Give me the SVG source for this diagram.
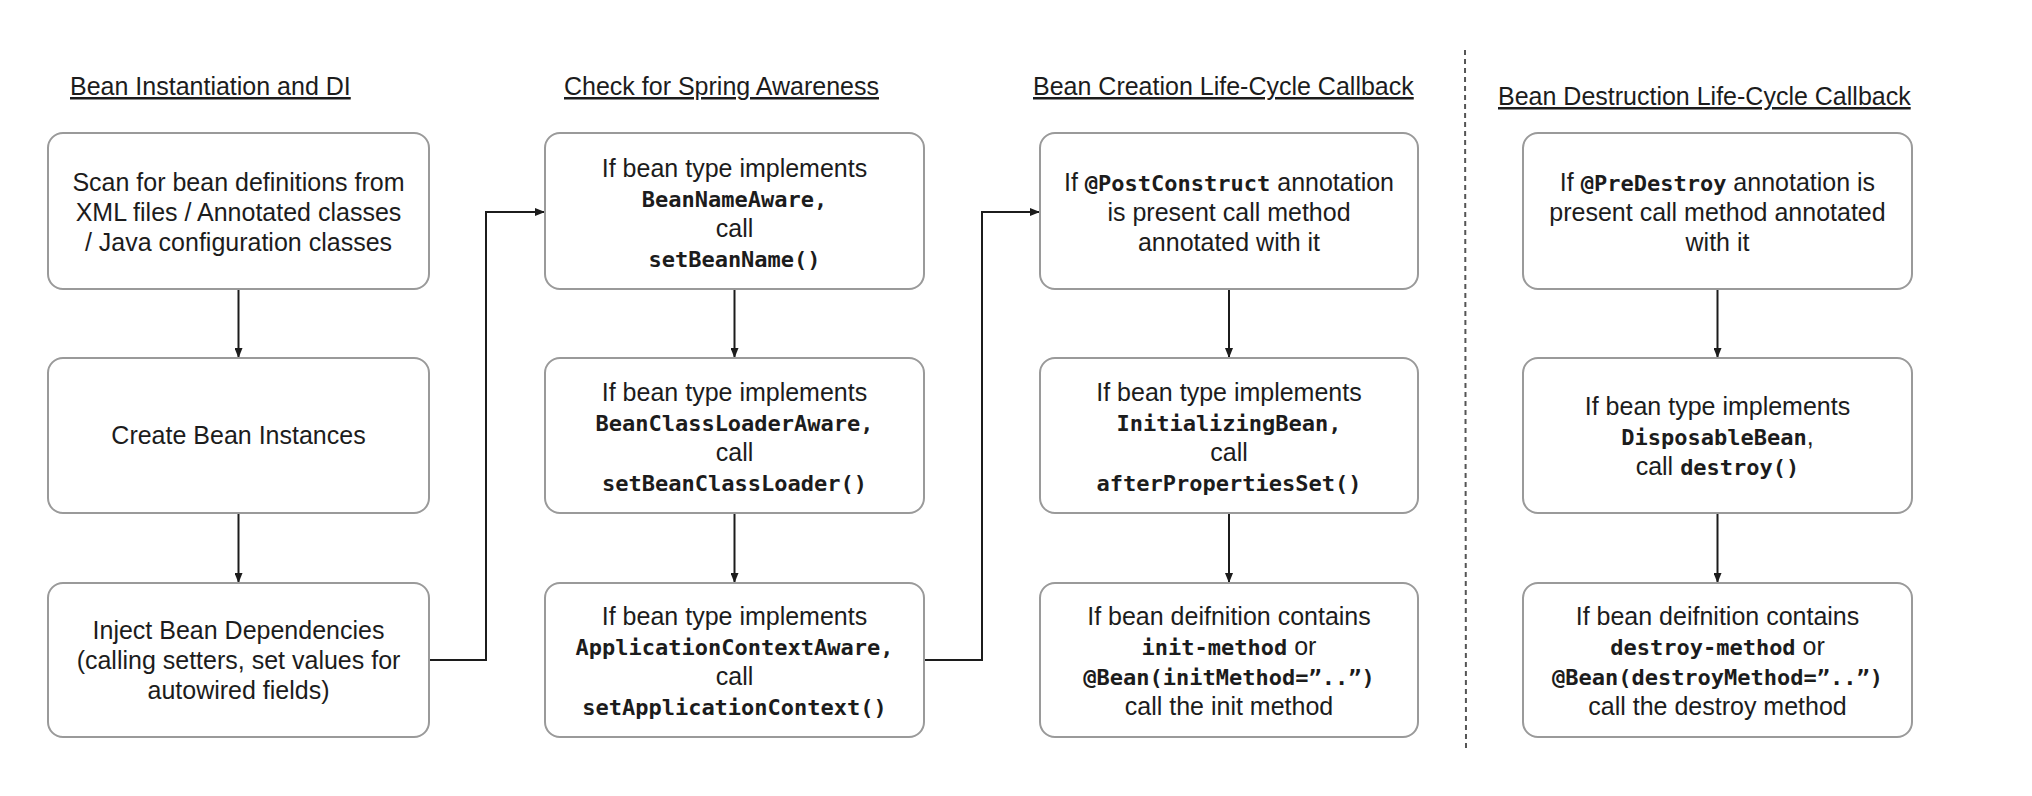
<svg xmlns="http://www.w3.org/2000/svg" width="2032" height="796" viewBox="0 0 2032 796">
<style>
.bg{fill:#ffffff}
.box{fill:#ffffff;stroke:#9a9a9a;stroke-width:2}
.t{font-family:"Liberation Sans",Arial,sans-serif;font-size:25px;fill:#1c1c1c;text-anchor:middle}
.m{font-family:"DejaVu Sans Mono","Liberation Mono",monospace;font-size:22px;font-weight:bold}
.title{font-family:"Liberation Sans",Arial,sans-serif;font-size:25px;fill:#1c1c1c;text-decoration:underline}
.conn{fill:none;stroke:#1c1c1c;stroke-width:2}
.div{fill:none;stroke:#555555;stroke-width:2;stroke-dasharray:5 4}
</style>
<defs>
<marker id="arr" viewBox="0 0 10 8" refX="10" refY="4" markerWidth="10" markerHeight="8" markerUnits="userSpaceOnUse" orient="auto">
<path d="M0,0 L10,4 L0,8 z" fill="#1c1c1c"/>
</marker>
</defs>
<rect class="bg" x="0" y="0" width="2032" height="796"/>

<g id="titles">
<text class="title" x="70" y="95">Bean Instantiation and DI</text>
<text class="title" x="564" y="95">Check for Spring Awareness</text>
<text class="title" x="1033" y="95">Bean Creation Life-Cycle Callback</text>
<text class="title" x="1498" y="105">Bean Destruction Life-Cycle Callback</text>
</g>

<line id="divider" class="div" x1="1465" y1="50" x2="1466" y2="750"/>

<g id="connectors">
<line class="conn" x1="238.5" y1="289" x2="238.5" y2="358" marker-end="url(#arr)"/>
<line class="conn" x1="238.5" y1="513" x2="238.5" y2="583" marker-end="url(#arr)"/>
<line class="conn" x1="734.5" y1="289" x2="734.5" y2="358" marker-end="url(#arr)"/>
<line class="conn" x1="734.5" y1="513" x2="734.5" y2="583" marker-end="url(#arr)"/>
<line class="conn" x1="1229" y1="289" x2="1229" y2="358" marker-end="url(#arr)"/>
<line class="conn" x1="1229" y1="513" x2="1229" y2="583" marker-end="url(#arr)"/>
<line class="conn" x1="1717.5" y1="289" x2="1717.5" y2="358" marker-end="url(#arr)"/>
<line class="conn" x1="1717.5" y1="513" x2="1717.5" y2="583" marker-end="url(#arr)"/>
<path class="conn" d="M429,660 H486 V212 H545" marker-end="url(#arr)"/>
<path class="conn" d="M924,660 H982 V212 H1040" marker-end="url(#arr)"/>
</g>

<g id="n1a">
<rect class="box" x="48" y="133" width="381" height="156" rx="15"/>
<text class="t" x="238.5" y="191">Scan for bean definitions from</text>
<text class="t" x="238.5" y="221">XML files / Annotated classes</text>
<text class="t" x="238.5" y="251">/ Java configuration classes</text>
</g>
<g id="n1b">
<rect class="box" x="48" y="358" width="381" height="155" rx="15"/>
<text class="t" x="238.5" y="444">Create Bean Instances</text>
</g>
<g id="n1c">
<rect class="box" x="48" y="583" width="381" height="154" rx="15"/>
<text class="t" x="238.5" y="639">Inject Bean Dependencies</text>
<text class="t" x="238.5" y="669">(calling setters, set values for</text>
<text class="t" x="238.5" y="699">autowired fields)</text>
</g>

<g id="n2a">
<rect class="box" x="545" y="133" width="379" height="156" rx="15"/>
<text class="t" x="734.5" y="177">If bean type implements</text>
<text class="t" x="734.5" y="207"><tspan class="m">BeanNameAware,</tspan></text>
<text class="t" x="734.5" y="237">call</text>
<text class="t" x="734.5" y="267"><tspan class="m">setBeanName()</tspan></text>
</g>
<g id="n2b">
<rect class="box" x="545" y="358" width="379" height="155" rx="15"/>
<text class="t" x="734.5" y="401">If bean type implements</text>
<text class="t" x="734.5" y="431"><tspan class="m">BeanClassLoaderAware,</tspan></text>
<text class="t" x="734.5" y="461">call</text>
<text class="t" x="734.5" y="491"><tspan class="m">setBeanClassLoader()</tspan></text>
</g>
<g id="n2c">
<rect class="box" x="545" y="583" width="379" height="154" rx="15"/>
<text class="t" x="734.5" y="625">If bean type implements</text>
<text class="t" x="734.5" y="655"><tspan class="m">ApplicationContextAware,</tspan></text>
<text class="t" x="734.5" y="685">call</text>
<text class="t" x="734.5" y="715"><tspan class="m">setApplicationContext()</tspan></text>
</g>

<g id="n3a">
<rect class="box" x="1040" y="133" width="378" height="156" rx="15"/>
<text class="t" x="1229" y="191">If <tspan class="m">@PostConstruct</tspan> annotation</text>
<text class="t" x="1229" y="221">is present call method</text>
<text class="t" x="1229" y="251">annotated with it</text>
</g>
<g id="n3b">
<rect class="box" x="1040" y="358" width="378" height="155" rx="15"/>
<text class="t" x="1229" y="401">If bean type implements</text>
<text class="t" x="1229" y="431"><tspan class="m">InitializingBean,</tspan></text>
<text class="t" x="1229" y="461">call</text>
<text class="t" x="1229" y="491"><tspan class="m">afterPropertiesSet()</tspan></text>
</g>
<g id="n3c">
<rect class="box" x="1040" y="583" width="378" height="154" rx="15"/>
<text class="t" x="1229" y="625">If bean deifnition contains</text>
<text class="t" x="1229" y="655"><tspan class="m">init-method</tspan> or</text>
<text class="t" x="1229" y="685"><tspan class="m">@Bean(initMethod=”..”)</tspan></text>
<text class="t" x="1229" y="715">call the init method</text>
</g>

<g id="n4a">
<rect class="box" x="1523" y="133" width="389" height="156" rx="15"/>
<text class="t" x="1717.5" y="191">If <tspan class="m">@PreDestroy</tspan> annotation is</text>
<text class="t" x="1717.5" y="221">present call method annotated</text>
<text class="t" x="1717.5" y="251">with it</text>
</g>
<g id="n4b">
<rect class="box" x="1523" y="358" width="389" height="155" rx="15"/>
<text class="t" x="1717.5" y="415">If bean type implements</text>
<text class="t" x="1717.5" y="445"><tspan class="m">DisposableBean</tspan>,</text>
<text class="t" x="1717.5" y="475">call <tspan class="m">destroy()</tspan></text>
</g>
<g id="n4c">
<rect class="box" x="1523" y="583" width="389" height="154" rx="15"/>
<text class="t" x="1717.5" y="625">If bean deifnition contains</text>
<text class="t" x="1717.5" y="655"><tspan class="m">destroy-method</tspan> or</text>
<text class="t" x="1717.5" y="685"><tspan class="m">@Bean(destroyMethod=”..”)</tspan></text>
<text class="t" x="1717.5" y="715">call the destroy method</text>
</g>
</svg>
